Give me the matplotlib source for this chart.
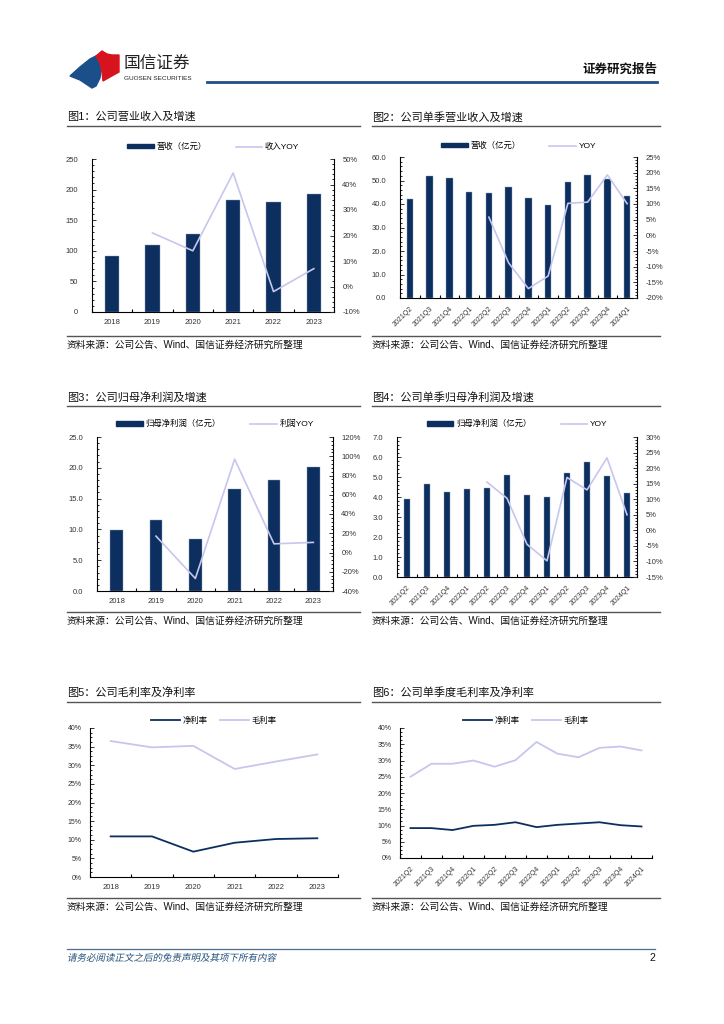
import numpy as np
import matplotlib
matplotlib.use('Agg')
from matplotlib import pyplot as plt
from matplotlib.patches import Patch, Polygon, PathPatch
from matplotlib.lines import Line2D
from matplotlib.textpath import TextPath
from matplotlib.font_manager import FontProperties
from matplotlib.transforms import Affine2D
from matplotlib.ticker import AutoMinorLocator, FuncFormatter, MultipleLocator

plt.rcParams['font.family'] = ['Liberation Sans', 'Noto Sans CJK SC', 'DejaVu Sans']
plt.rcParams['axes.unicode_minus'] = False

# ---- data ----
years = ['2018', '2019', '2020', '2021', '2022', '2023']
quarters = ['2021Q2', '2021Q3', '2021Q4', '2022Q1', '2022Q2', '2022Q3',
            '2022Q4', '2023Q1', '2023Q2', '2023Q3', '2023Q4', '2024Q1']

rev_year = [91, 110, 127, 183, 179, 192]
rev_year_yoy = [np.nan, 21, 14, 44.5, -2, 7]

rev_q = [42.2, 52.0, 51.2, 45.3, 44.7, 47.4, 42.5, 39.4, 49.3, 52.4, 50.5, 43.4]
rev_q_yoy = [np.nan, np.nan, np.nan, np.nan, 5.8, -8.8, -17.0, -13.0, 10.2, 10.6, 19.3, 10.1]

np_year = [9.9, 11.5, 8.4, 16.6, 18.0, 20.1]
np_year_yoy = [np.nan, 17, -27, 97, 9, 10.5]

np_q = [3.9, 4.65, 4.25, 4.42, 4.45, 5.12, 4.08, 3.99, 5.22, 5.76, 5.03, 4.22]
np_q_yoy = [np.nan, np.nan, np.nan, np.nan, 15.5, 10.3, -4.5, -9.8, 17.0, 13.0, 23.3, 5.0]

net_margin_year = [10.9, 10.9, 6.8, 9.2, 10.2, 10.4]
gross_margin_year = [36.5, 34.8, 35.2, 29.0, 31.0, 32.9]

net_margin_q = [9.2, 9.2, 8.6, 9.9, 10.2, 11.0, 9.5, 10.2, 10.6, 11.0, 10.1, 9.7]
gross_margin_q = [25.0, 29.0, 29.0, 30.0, 28.1, 30.1, 35.7, 32.1, 31.0, 33.9, 34.3, 33.1]

NAVY = '#0C2F5F'
LAV = '#C6C6EE'
W, H = 724, 1024

fig = plt.figure(figsize=(7.24, 10.24), dpi=100)
fig.patch.set_facecolor('white')

# page overlay in pixel coords
page = fig.add_axes([0, 0, 1, 1])
page.set_xlim(0, W)
page.set_ylim(H, 0)
page.axis('off')


def rect(l, t, r, b):
    return [l / W, 1 - b / H, (r - l) / W, (b - t) / H]


def pct(v, pos):
    return '%d%%' % round(v)


def style_axes(ax, n, cats, rotate, yfmt):
    for s in ['top', 'right']:
        ax.spines[s].set_visible(False)
    ax.spines['left'].set_linewidth(0.8)
    ax.spines['bottom'].set_linewidth(0.8)
    ax.set_xlim(-0.5, n - 0.5)
    ax.set_xticks(range(n))
    if rotate:
        ax.set_xticklabels(cats, rotation=45, ha='right', rotation_mode='anchor', fontsize=5)
    else:
        ax.set_xticklabels(cats, fontsize=5.5)
    ax.tick_params(axis='x', length=0, pad=5, colors='#333333')
    ax.set_xticks(np.arange(-0.5, n), minor=True)
    ax.tick_params(axis='x', which='minor', direction='in', length=2.5, width=0.8)
    ax.yaxis.set_minor_locator(AutoMinorLocator(5))
    ax.tick_params(axis='y', which='major', direction='in', length=3, width=0.7,
                   labelsize=5.5, colors='#333333', pad=10)
    ax.tick_params(axis='y', which='minor', direction='in', length=1.5, width=0.6)
    ax.yaxis.set_major_formatter(yfmt)


def panel_frame(x0, x1, ytitle, title, ybot):
    page.text(x0, ytitle, title, fontsize=8, va='center', ha='left', color='#111111')
    page.plot([x0, x1], [ytitle + 9, ytitle + 9], color='#555555', lw=1)
    page.plot([x0, x1], [ybot, ybot], color='#555555', lw=1)
    page.text(x0, ybot + 9, '资料来源：公司公告、Wind、国信证券经济研究所整理',
              fontsize=7, va='center', ha='left', color='#111111')


def bar_line(box, cats, bars, yoy, ylim, ystep, yfmt, y2lim, y2step,
             labels, legend_y, rotate, barw):
    n = len(cats)
    ax = fig.add_axes(rect(*box))
    x = np.arange(n)
    ax.bar(x, bars, width=barw, color=NAVY, edgecolor='#8EA3BE', linewidth=0.3, zorder=2)
    ax.set_ylim(*ylim)
    ax.yaxis.set_major_locator(MultipleLocator(ystep))
    style_axes(ax, n, cats, rotate, yfmt)
    ax2 = ax.twinx()
    ax2.plot(x, yoy, color=LAV, lw=1.2, zorder=3)
    ax2.set_ylim(*y2lim)
    ax2.yaxis.set_major_locator(MultipleLocator(y2step))
    ax2.yaxis.set_minor_locator(AutoMinorLocator(5))
    ax2.yaxis.set_major_formatter(FuncFormatter(pct))
    for s in ['top', 'left', 'bottom']:
        ax2.spines[s].set_visible(False)
    ax2.spines['right'].set_linewidth(0.8)
    ax2.tick_params(axis='y', which='major', direction='in', length=3, width=0.7,
                    labelsize=5.5, colors='#333333', pad=6)
    ax2.tick_params(axis='y', which='minor', direction='in', length=1.5, width=0.6)
    cx = (box[0] + box[2]) / 2 / W
    handles = [Patch(facecolor=NAVY, edgecolor=NAVY), Line2D([], [], color=LAV, lw=1.2)]
    fig.legend(handles, labels, loc='center', bbox_to_anchor=(cx, 1 - legend_y / H),
               ncol=2, frameon=False, fontsize=6, handlelength=3.2, handleheight=0.45,
               columnspacing=3.5, handletextpad=0.3)
    return ax


def two_lines(box, cats, net, gross, legend_y, rotate):
    n = len(cats)
    ax = fig.add_axes(rect(*box))
    x = np.arange(n)
    ax.plot(x, net, color=NAVY, lw=1.3)
    ax.plot(x, gross, color=LAV, lw=1.3)
    ax.set_ylim(0, 40)
    ax.yaxis.set_major_locator(MultipleLocator(5))
    style_axes(ax, n, cats, rotate, FuncFormatter(pct))
    ax.tick_params(axis='y', labelsize=5, pad=6)
    ax.yaxis.set_minor_locator(AutoMinorLocator(4))
    cx = (box[0] + box[2]) / 2 / W
    handles = [Line2D([], [], color=NAVY, lw=1.3), Line2D([], [], color=LAV, lw=1.3)]
    fig.legend(handles, ['净利率', '毛利率'], loc='center', bbox_to_anchor=(cx, 1 - legend_y / H),
               ncol=2, frameon=False, fontsize=6, handlelength=3.5,
               columnspacing=1.5, handletextpad=0.3)
    return ax


int_fmt = FuncFormatter(lambda v, p: '%d' % round(v))
dec_fmt = FuncFormatter(lambda v, p: '%.1f' % v)

# chart 1
panel_frame(67, 360, 117, '图1：公司营业收入及增速', 336)
bar_line((92, 159, 334, 312), years, rev_year, rev_year_yoy, (0, 250), 50, int_fmt,
         (-10, 50), 10, ['营收（亿元）', '收入YOY'], 147, False, 0.35)

# chart 2
panel_frame(372, 660, 117, '图2：公司单季营业收入及增速', 336)
bar_line((400, 157, 637, 298), quarters, rev_q, rev_q_yoy, (0, 60), 10, dec_fmt,
         (-20, 25), 5, ['营收（亿元）', 'YOY'], 146, True, 0.32)

# chart 3
panel_frame(67, 360, 397, '图3：公司归母净利润及增速', 612)
bar_line((97, 437, 333, 591), years, np_year, np_year_yoy, (0, 25), 5, dec_fmt,
         (-40, 120), 20, ['归母净利润（亿元）', '利润YOY'], 424, False, 0.33)

# chart 4
panel_frame(372, 660, 397, '图4：公司单季归母净利润及增速', 612)
bar_line((397, 437, 637, 577), quarters, np_q, np_q_yoy, (0, 7), 1, dec_fmt,
         (-15, 30), 5, ['归母净利润（亿元）', 'YOY'], 424, True, 0.32)

# chart 5
panel_frame(67, 360, 693, '图5：公司毛利率及净利率', 898)
two_lines((90, 728, 338, 877), years, net_margin_year, gross_margin_year, 721, False)

# chart 6
panel_frame(372, 660, 693, '图6：公司单季度毛利率及净利率', 898)
two_lines((400, 728, 652, 858), quarters, net_margin_q, gross_margin_q, 721, True)

# header logo (rough)
page.add_patch(Polygon([(70, 76), (80, 67), (90, 59), (96, 56), (99, 62), (101, 70),
                        (100, 78), (96, 86), (92, 88), (86, 84), (80, 80)],
                       closed=True, color='#1B4F8A'))
page.add_patch(Polygon([(96, 56), (102, 51), (107, 54), (112, 55), (119, 55), (119, 72),
                        (110, 77), (103, 81), (102, 72), (100, 63)],
                       closed=True, color='#D7141E'))
page.text(124, 63, '国信证券', fontsize=12, va='center', ha='left', color='#222222')
page.text(124, 78, 'GUOSEN SECURITIES', fontsize=4.6, va='center', ha='left', color='#222222')
page.plot([207, 657], [82, 82], color='#1F4E89', lw=2)
page.text(657, 70, '证券研究报告', fontsize=9, fontweight='bold', va='center', ha='right',
          color='#111111')

# footer
page.plot([67, 655], [949, 949], color='#4D6E8E', lw=0.9)
tp = TextPath((0, 0), '请务必阅读正文之后的免责声明及其项下所有内容', size=9.5,
              prop=FontProperties(family='Noto Sans CJK SC'))
tr = Affine2D().skew_deg(12, 0).scale(1, -1).translate(67, 961) + page.transData
page.add_patch(PathPatch(tp, transform=tr, facecolor='#1F4E79', edgecolor='none'))
page.text(655, 958, '2', fontsize=7.5, va='center', ha='right', color='#111111')

fig.savefig('out.png', dpi=100)
